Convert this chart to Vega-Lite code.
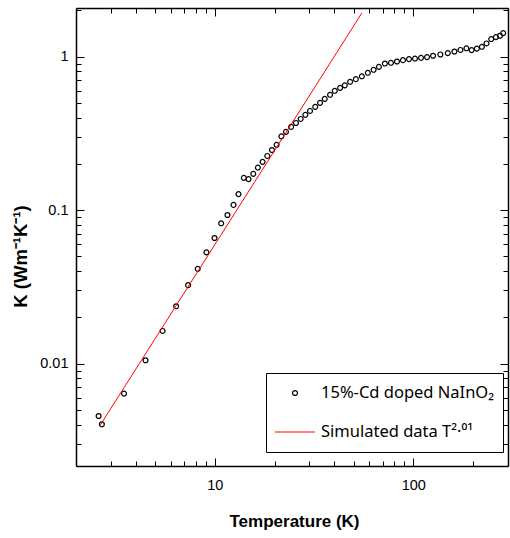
{
  "$schema": "https://vega.github.io/schema/vega-lite/v6.json",
  "width": 432,
  "height": 458,
  "autosize": {"type": "none"},
  "padding": {"left": 76, "top": 8, "right": 2, "bottom": 72},
  "background": "white",
  "config": {
    "view": {"stroke": null},
    "axis": {
      "grid": false,
      "domainColor": "black",
      "domainWidth": 1.5,
      "tickColor": "black",
      "tickWidth": 1,
      "labelColor": "black",
      "titleColor": "black",
      "labelFont": "Liberation Sans",
      "titleFont": "Liberation Sans",
      "labelFontSize": 14.5,
      "titleFontSize": 17,
      "titleFontWeight": "bold",
      "labelOverlap": false,
      "labelFlush": false
    }
  },
  "datasets": {
    "meas": [
      {"T": 2.60, "K": 0.00455, "series": "15%-Cd doped NaInO₂"},
      {"T": 2.70, "K": 0.00402, "series": "15%-Cd doped NaInO₂"},
      {"T": 3.49, "K": 0.00637, "series": "15%-Cd doped NaInO₂"},
      {"T": 4.48, "K": 0.0105, "series": "15%-Cd doped NaInO₂"},
      {"T": 5.46, "K": 0.0163, "series": "15%-Cd doped NaInO₂"},
      {"T": 6.39, "K": 0.0236, "series": "15%-Cd doped NaInO₂"},
      {"T": 7.34, "K": 0.0324, "series": "15%-Cd doped NaInO₂"},
      {"T": 8.21, "K": 0.0414, "series": "15%-Cd doped NaInO₂"},
      {"T": 9.08, "K": 0.0530, "series": "15%-Cd doped NaInO₂"},
      {"T": 9.97, "K": 0.0657, "series": "15%-Cd doped NaInO₂"},
      {"T": 10.77, "K": 0.0819, "series": "15%-Cd doped NaInO₂"},
      {"T": 11.59, "K": 0.0928, "series": "15%-Cd doped NaInO₂"},
      {"T": 12.43, "K": 0.108, "series": "15%-Cd doped NaInO₂"},
      {"T": 13.17, "K": 0.127, "series": "15%-Cd doped NaInO₂"},
      {"T": 14.01, "K": 0.162, "series": "15%-Cd doped NaInO₂"},
      {"T": 14.80, "K": 0.159, "series": "15%-Cd doped NaInO₂"},
      {"T": 15.63, "K": 0.172, "series": "15%-Cd doped NaInO₂"},
      {"T": 16.49, "K": 0.189, "series": "15%-Cd doped NaInO₂"},
      {"T": 17.41, "K": 0.206, "series": "15%-Cd doped NaInO₂"},
      {"T": 18.39, "K": 0.225, "series": "15%-Cd doped NaInO₂"},
      {"T": 19.41, "K": 0.246, "series": "15%-Cd doped NaInO₂"},
      {"T": 20.49, "K": 0.266, "series": "15%-Cd doped NaInO₂"},
      {"T": 21.65, "K": 0.302, "series": "15%-Cd doped NaInO₂"},
      {"T": 22.84, "K": 0.323, "series": "15%-Cd doped NaInO₂"},
      {"T": 24.25, "K": 0.348, "series": "15%-Cd doped NaInO₂"},
      {"T": 25.65, "K": 0.369, "series": "15%-Cd doped NaInO₂"},
      {"T": 27.09, "K": 0.392, "series": "15%-Cd doped NaInO₂"},
      {"T": 28.61, "K": 0.417, "series": "15%-Cd doped NaInO₂"},
      {"T": 30.19, "K": 0.442, "series": "15%-Cd doped NaInO₂"},
      {"T": 32.07, "K": 0.470, "series": "15%-Cd doped NaInO₂"},
      {"T": 33.91, "K": 0.499, "series": "15%-Cd doped NaInO₂"},
      {"T": 35.81, "K": 0.530, "series": "15%-Cd doped NaInO₂"},
      {"T": 38.09, "K": 0.563, "series": "15%-Cd doped NaInO₂"},
      {"T": 40.23, "K": 0.598, "series": "15%-Cd doped NaInO₂"},
      {"T": 42.79, "K": 0.625, "series": "15%-Cd doped NaInO₂"},
      {"T": 45.20, "K": 0.649, "series": "15%-Cd doped NaInO₂"},
      {"T": 48.06, "K": 0.684, "series": "15%-Cd doped NaInO₂"},
      {"T": 51.35, "K": 0.712, "series": "15%-Cd doped NaInO₂"},
      {"T": 55.06, "K": 0.743, "series": "15%-Cd doped NaInO₂"},
      {"T": 59.03, "K": 0.783, "series": "15%-Cd doped NaInO₂"},
      {"T": 63.10, "K": 0.819, "series": "15%-Cd doped NaInO₂"},
      {"T": 67.12, "K": 0.856, "series": "15%-Cd doped NaInO₂"},
      {"T": 71.94, "K": 0.900, "series": "15%-Cd doped NaInO₂"},
      {"T": 77.18, "K": 0.910, "series": "15%-Cd doped NaInO₂"},
      {"T": 82.75, "K": 0.928, "series": "15%-Cd doped NaInO₂"},
      {"T": 88.72, "K": 0.947, "series": "15%-Cd doped NaInO₂"},
      {"T": 95.13, "K": 0.962, "series": "15%-Cd doped NaInO₂"},
      {"T": 102.0, "K": 0.970, "series": "15%-Cd doped NaInO₂"},
      {"T": 109.4, "K": 0.981, "series": "15%-Cd doped NaInO₂"},
      {"T": 117.3, "K": 0.991, "series": "15%-Cd doped NaInO₂"},
      {"T": 125.8, "K": 1.011, "series": "15%-Cd doped NaInO₂"},
      {"T": 136.9, "K": 1.031, "series": "15%-Cd doped NaInO₂"},
      {"T": 149.2, "K": 1.052, "series": "15%-Cd doped NaInO₂"},
      {"T": 161.1, "K": 1.078, "series": "15%-Cd doped NaInO₂"},
      {"T": 172.8, "K": 1.103, "series": "15%-Cd doped NaInO₂"},
      {"T": 185.2, "K": 1.131, "series": "15%-Cd doped NaInO₂"},
      {"T": 196.8, "K": 1.101, "series": "15%-Cd doped NaInO₂"},
      {"T": 209.0, "K": 1.126, "series": "15%-Cd doped NaInO₂"},
      {"T": 221.6, "K": 1.157, "series": "15%-Cd doped NaInO₂"},
      {"T": 233.8, "K": 1.216, "series": "15%-Cd doped NaInO₂"},
      {"T": 246.9, "K": 1.299, "series": "15%-Cd doped NaInO₂"},
      {"T": 260.8, "K": 1.338, "series": "15%-Cd doped NaInO₂"},
      {"T": 273.2, "K": 1.365, "series": "15%-Cd doped NaInO₂"},
      {"T": 283.8, "K": 1.421, "series": "15%-Cd doped NaInO₂"}
    ],
    "fit": [
      {"T": 2.647, "K": 0.00396, "series": "Simulated data T²·⁰¹"},
      {"T": 55.06, "K": 1.919, "series": "Simulated data T²·⁰¹"}
    ]
  },
  "layer": [
    {
      "data": {"name": "meas"},
      "mark": {"type": "point", "filled": false, "strokeWidth": 1.2, "opacity": 1},
      "encoding": {
        "x": {
          "field": "T", "type": "quantitative",
          "scale": {"type": "log", "domain": [2, 300], "nice": false},
          "axis": {
            "orient": "bottom",
            "values": [2, 3, 4, 5, 6, 7, 8, 9, 10, 20, 30, 40, 50, 60, 70, 80, 90, 100, 200, 300],
            "labelExpr": "datum.value == 10 ? '10' : datum.value == 100 ? '100' : ''",
            "tickSize": {"condition": {"test": "datum.value == 10 || datum.value == 100", "value": -8}, "value": -5},
            "labelPadding": 20,
            "title": "Temperature (K)",
            "titleX": 218,
            "titleY": 60,
            "titleBaseline": "alphabetic"
          }
        },
        "y": {
          "field": "K", "type": "quantitative",
          "scale": {"type": "log", "domain": [0.00215, 2.07], "nice": false},
          "axis": {
            "orient": "left",
            "values": [0.003, 0.004, 0.005, 0.006, 0.007, 0.008, 0.009, 0.01, 0.02, 0.03, 0.04, 0.05, 0.06, 0.07, 0.08, 0.09, 0.1, 0.2, 0.3, 0.4, 0.5, 0.6, 0.7, 0.8, 0.9, 1, 2],
            "labelExpr": "datum.value == 1 ? '1' : datum.value == 0.1 ? '0.1' : datum.value == 0.01 ? '0.01' : ''",
            "tickSize": {"condition": {"test": "datum.value == 1 || datum.value == 0.1 || datum.value == 0.01", "value": -8}, "value": -5},
            "labelPadding": 16,
            "title": "K (Wm⁻¹K⁻¹)",
            "titleFontSize": 18.5,
            "titleX": -50,
            "titleY": 248,
            "titleBaseline": "alphabetic"
          }
        },
        "color": {
          "field": "series", "type": "nominal",
          "scale": {"domain": ["15%-Cd doped NaInO₂", "Simulated data T²·⁰¹"], "range": ["black", "red"]},
          "legend": {
            "orient": "none", "legendX": 190, "legendY": 365, "title": null,
            "labelFont": "Noto Sans", "labelFontSize": 16.5, "labelColor": "black",
            "labelLimit": 400, "labelOffset": 5, "symbolOffset": 0,
            "strokeColor": "black", "padding": 8, "rowPadding": 15, "clipHeight": 24,
            "symbolStrokeWidth": 1.2
          }
        },
        "shape": {
          "field": "series", "type": "nominal",
          "scale": {"domain": ["15%-Cd doped NaInO₂", "Simulated data T²·⁰¹"], "range": ["circle", "stroke"]},
          "legend": {
            "orient": "none", "legendX": 190, "legendY": 365, "title": null,
            "labelFont": "Noto Sans", "labelFontSize": 16.5, "labelColor": "black",
            "labelLimit": 400, "labelOffset": 5, "symbolOffset": 0,
            "strokeColor": "black", "padding": 8, "rowPadding": 15, "clipHeight": 24,
            "symbolStrokeWidth": 1.2
          }
        },
        "size": {
          "field": "series", "type": "nominal",
          "scale": {"type": "ordinal", "domain": ["15%-Cd doped NaInO₂", "Simulated data T²·⁰¹"], "range": [24, 1600]},
          "legend": {
            "orient": "none", "legendX": 190, "legendY": 365, "title": null,
            "labelFont": "Noto Sans", "labelFontSize": 16.5, "labelColor": "black",
            "labelLimit": 400, "labelOffset": 5, "symbolOffset": 0,
            "strokeColor": "black", "padding": 8, "rowPadding": 15, "clipHeight": 24,
            "symbolStrokeWidth": 1.2
          }
        }
      }
    },
    {
      "data": {"name": "fit"},
      "mark": {"type": "line", "strokeWidth": 1},
      "encoding": {
        "x": {
          "field": "T", "type": "quantitative",
          "axis": {
            "orient": "top",
            "values": [2, 3, 4, 5, 6, 7, 8, 9, 10, 20, 30, 40, 50, 60, 70, 80, 90, 100, 200, 300],
            "labels": false,
            "title": null,
            "tickSize": {"condition": {"test": "datum.value == 10 || datum.value == 100", "value": -8}, "value": -5}
          }
        },
        "y": {
          "field": "K", "type": "quantitative",
          "axis": {
            "orient": "right",
            "values": [0.003, 0.004, 0.005, 0.006, 0.007, 0.008, 0.009, 0.01, 0.02, 0.03, 0.04, 0.05, 0.06, 0.07, 0.08, 0.09, 0.1, 0.2, 0.3, 0.4, 0.5, 0.6, 0.7, 0.8, 0.9, 1, 2],
            "labels": false,
            "title": null,
            "tickSize": {"condition": {"test": "datum.value == 1 || datum.value == 0.1 || datum.value == 0.01", "value": -8}, "value": -5}
          }
        },
        "color": {"field": "series", "type": "nominal"}
      }
    }
  ],
  "resolve": {"axis": {"x": "independent", "y": "independent"}}
}
